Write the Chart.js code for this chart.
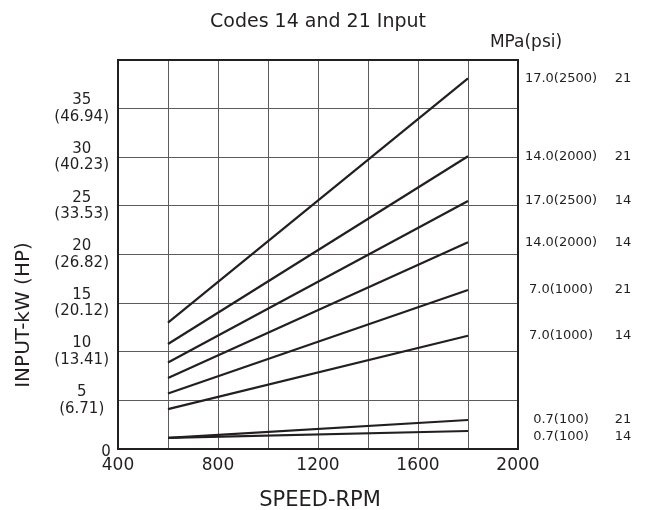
<!DOCTYPE html>
<html>
<head>
<meta charset="utf-8">
<title>Codes 14 and 21 Input</title>
<script src="https://cdn.jsdelivr.net/npm/chart.js@4.4.1/dist/chart.umd.min.js"></script>
<style>
  html, body { margin: 0; padding: 0; background: #fff; }
  #wrap { width: 647px; height: 510px; }
</style>
</head>
<body>
<div id="wrap"><canvas id="inputChart" width="647" height="510"></canvas></div>
<script>
// data
const speedRpm = [600, 1800];

const kw17_21 = [13.0, 38.1];
const kw14_21 = [10.8, 30.1];
const kw17_14 = [8.9, 25.5];
const kw14_14 = [7.3, 21.25];
const kw7_21 = [5.7, 16.35];
const kw7_14 = [4.1, 11.65];
const kw07_21 = [1.15, 2.98];
const kw07_14 = [1.15, 1.85];

const pressureLabels = ["17.0(2500)", "14.0(2000)", "17.0(2500)", "14.0(2000)", "7.0(1000)", "7.0(1000)", "0.7(100)", "0.7(100)"];
const codeLabels = ["21", "21", "14", "14", "21", "14", "21", "14"];

const kwTicks = [5, 10, 15, 20, 25, 30, 35];
const hpTicks = ["(6.71)", "(13.41)", "(20.12)", "(26.82)", "(33.53)", "(40.23)", "(46.94)"];
const rpmTicks = [400, 800, 1200, 1600, 2000];

const chartTitle = "Codes 14 and 21 Input";
const unitTitle = "MPa(psi)";
const xTitle = "SPEED-RPM";
const yTitle = "INPUT-kW (HP)";

const ink = "#231f20";
const gridInk = "#5f5b5b";

Chart.defaults.font.family = "'DejaVu Sans', sans-serif";
Chart.defaults.color = ink;

const allSeries = [kw17_21, kw14_21, kw17_14, kw14_14, kw7_21, kw7_14, kw07_21, kw07_14];

const datasets = allSeries.map((vals, i) => ({
    label: pressureLabels[i] + " " + codeLabels[i],
    data: vals.map((v, j) => ({ x: speedRpm[j], y: v })),
    borderColor: ink,
    borderWidth: 2.2,
    pointRadius: 0,
    fill: false,
    tension: 0
}));

// text around the plot: titles, right-hand labels, the lone "0"
const annotations = {
    id: "annotations",
    afterDraw(chart) {
        const ctx = chart.ctx;
        const area = chart.chartArea;
        const yScale = chart.scales.y;
        const midX = (area.left + area.right) / 2;

        ctx.save();
        ctx.strokeStyle = ink;
        ctx.lineWidth = 2;
        ctx.strokeRect(area.left, area.top, area.right - area.left, area.bottom - area.top);

        ctx.fillStyle = ink;
        ctx.textAlign = "center";
        ctx.textBaseline = "alphabetic";
        ctx.font = "19px 'DejaVu Sans'";
        ctx.fillText(chartTitle, midX, 27);

        ctx.font = "17px 'DejaVu Sans'";
        ctx.fillText(unitTitle, 526, 47);

        ctx.font = "21px 'DejaVu Sans'";
        ctx.fillText(xTitle, midX + 2, 506);

        ctx.save();
        ctx.translate(24, 315);
        ctx.rotate(-Math.PI / 2);
        ctx.textBaseline = "middle";
        ctx.font = "20px 'DejaVu Sans'";
        ctx.fillText(yTitle, 0, 0);
        ctx.restore();

        ctx.font = "15px 'DejaVu Sans'";
        ctx.textBaseline = "middle";
        ctx.fillText("0", area.left - 12, yScale.getPixelForValue(0) + 3);

        // right labels follow the line ends, pushed apart when they crowd
        ctx.font = "13px 'DejaVu Sans'";
        let prev = -Infinity;
        allSeries.forEach((vals, i) => {
            let yy = yScale.getPixelForValue(vals[vals.length - 1]);
            if (yy < prev + 17) yy = prev + 17;
            prev = yy;
            ctx.fillText(pressureLabels[i], area.right + 43, yy);
            ctx.fillText(codeLabels[i], area.right + 105, yy);
        });
        ctx.restore();
    }
};

new Chart(document.getElementById("inputChart"), {
    type: "line",
    data: { datasets: datasets },
    options: {
        responsive: false,
        animation: false,
        layout: { padding: { top: 60, right: 129, bottom: 0, left: 0 } },
        plugins: {
            legend: { display: false },
            title: { display: false },
            tooltip: { enabled: false }
        },
        scales: {
            x: {
                type: "linear",
                min: 400,
                max: 2000,
                afterFit: (scale) => { scale.height = 61; },
                border: { display: false },
                grid: { color: gridInk, lineWidth: 1, drawTicks: false },
                ticks: {
                    stepSize: 200,
                    autoSkip: false,
                    maxRotation: 0,
                    padding: 6,
                    font: { size: 17 },
                    callback: (v) => rpmTicks.includes(v) ? String(v) : ""
                }
            },
            y: {
                min: 0,
                max: 40,
                afterFit: (scale) => { scale.width = 118; },
                border: { display: false },
                grid: { color: gridInk, lineWidth: 1, drawTicks: false },
                ticks: {
                    stepSize: 5,
                    crossAlign: "center",
                    padding: 9,
                    font: { size: 15, lineHeight: 1.1 },
                    callback: (v) => {
                        const i = kwTicks.indexOf(v);
                        return i < 0 ? "" : [String(v), hpTicks[i]];
                    }
                }
            }
        }
    },
    plugins: [annotations]
});
</script>
</body>
</html>
